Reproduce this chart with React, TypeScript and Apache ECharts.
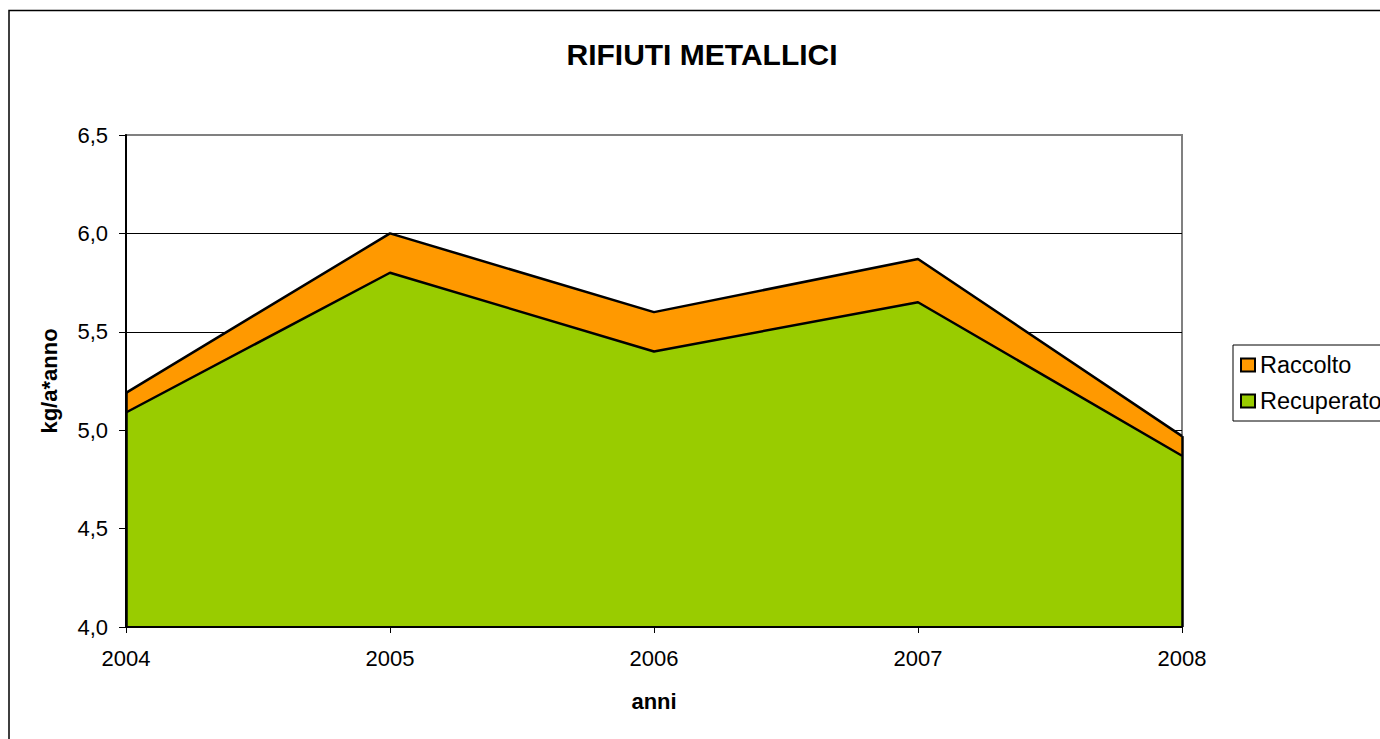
import React, { useEffect, useRef } from "react";
import * as echarts from "echarts";

const years = ["2004", "2005", "2006", "2007", "2008"];
const raccolto = [5.19, 6.0, 5.6, 5.87, 4.97];
const recuperato = [5.09, 5.8, 5.4, 5.65, 4.87];
const titleText = "RIFIUTI METALLICI";
const yName = "kg/a*anno";
const xName = "anni";

const FONT = "'Liberation Sans', Arial, sans-serif";

export default function App() {
  const ref = useRef<HTMLDivElement>(null);
  useEffect(() => {
    if (!ref.current) return;
    const chart = echarts.init(ref.current, null, { renderer: "svg" });
    const last = years.length - 1;
    chart.setOption({
      animation: false,
      backgroundColor: "#ffffff",
      textStyle: { fontFamily: FONT, color: "#000" },
      graphic: [
        {
          type: "rect",
          shape: { x: 9, y: 10.5, width: 1500, height: 900 },
          style: { fill: "none", stroke: "#000", lineWidth: 1.5 },
          silent: true,
          z: 100,
        },
        {
          type: "text",
          x: 702,
          y: 54,
          style: {
            text: titleText,
            font: `bold 30px ${FONT}`,
            fill: "#000",
            textAlign: "center",
            textVerticalAlign: "middle",
          },
        },
      ],
      grid: {
        left: 126,
        top: 135,
        right: 198,
        bottom: 112,
        show: true,
        borderColor: "#808080",
        borderWidth: 2,
        backgroundColor: "transparent",
      },
      legend: {
        orient: "vertical",
        left: 1233,
        top: 345,
        padding: [8, 60, 8, 7],
        itemGap: 12,
        itemWidth: 14,
        itemHeight: 13,
        icon: "rect",
        borderColor: "#000",
        borderWidth: 1,
        textStyle: { fontSize: 23.5, color: "#000", fontFamily: FONT },
        data: [
          { name: "Raccolto", itemStyle: { color: "#FF9900", borderColor: "#000", borderWidth: 2 } },
          { name: "Recuperato", itemStyle: { color: "#99CC00", borderColor: "#000", borderWidth: 2 } },
        ],
      },
      xAxis: {
        type: "category",
        data: years,
        boundaryGap: false,
        name: xName,
        nameLocation: "middle",
        nameGap: 63,
        nameTextStyle: { fontSize: 22, fontWeight: "bold", color: "#000", fontFamily: FONT },
        axisLine: { show: true, lineStyle: { color: "#000", width: 2 } },
        axisTick: { show: true, length: 6, lineStyle: { color: "#000", width: 1 }, alignWithLabel: true },
        axisLabel: { fontSize: 22, color: "#000", margin: 20, fontFamily: FONT },
        splitLine: { show: false },
        z: 10,
      },
      yAxis: {
        type: "value",
        min: 4.0,
        max: 6.5,
        interval: 0.5,
        name: yName,
        nameLocation: "middle",
        nameGap: 66,
        nameRotate: 90,
        nameTextStyle: { fontSize: 22, fontWeight: "bold", color: "#000", fontFamily: FONT },
        axisLine: { show: true, lineStyle: { color: "#000", width: 2 } },
        axisTick: { show: true, length: 7, inside: false, lineStyle: { color: "#000", width: 1 } },
        axisLabel: {
          fontSize: 22,
          color: "#000",
          margin: 18,
          fontFamily: FONT,
          formatter: (v: number) => v.toFixed(1).replace(".", ","),
        },
        splitLine: { show: true, showMaxLine: false, showMinLine: false, lineStyle: { color: "#000", width: 1 } },
        z: 0,
      },
      series: [
        {
          name: "Raccolto",
          type: "line",
          data: raccolto,
          symbol: "none",
          lineStyle: { color: "#000", width: 2.5 },
          itemStyle: { color: "#FF9900" },
          areaStyle: { color: "#FF9900", opacity: 1, origin: "start" },
          z: 2,
        },
        {
          name: "Recuperato",
          type: "line",
          data: recuperato,
          symbol: "none",
          lineStyle: { color: "#000", width: 2.5 },
          itemStyle: { color: "#99CC00" },
          areaStyle: { color: "#99CC00", opacity: 1, origin: "start" },
          z: 3,
          markLine: {
            silent: true,
            symbol: "none",
            label: { show: false },
            lineStyle: { color: "#000", width: 2.5, type: "solid" },
            data: [
              [{ coord: [years[0], 4.0] }, { coord: [years[0], raccolto[0]] }],
              [{ coord: [years[last], 4.0] }, { coord: [years[last], raccolto[last]] }],
            ],
          },
        },
      ],
    });
    return () => chart.dispose();
  }, []);
  return (
    <div
      ref={ref}
      style={{ position: "fixed", left: 0, top: 0, width: 1380, height: 739, background: "#fff" }}
    />
  );
}
